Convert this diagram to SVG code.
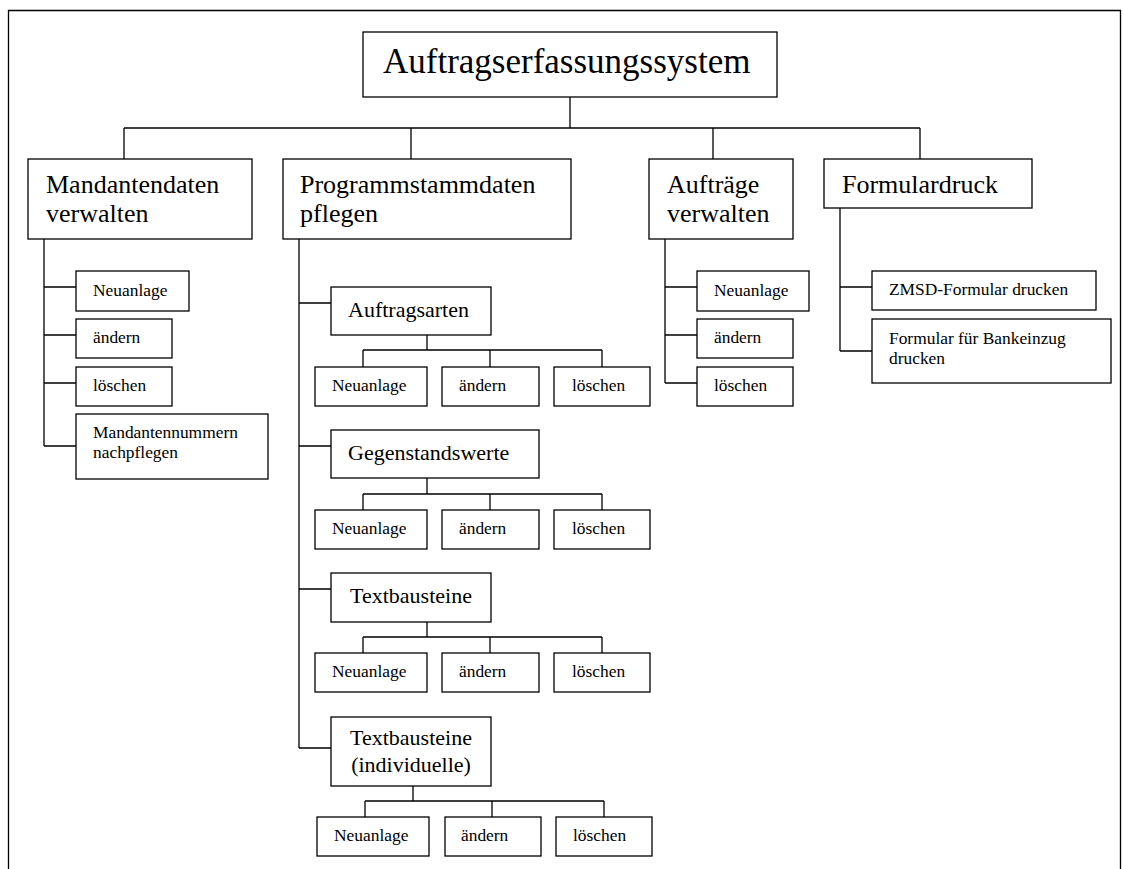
<svg xmlns="http://www.w3.org/2000/svg" width="1124" height="869" viewBox="0 0 1124 869">
<style>
rect{fill:#fff;stroke:#000;stroke-width:1.3}
path{fill:none;stroke:#000;stroke-width:1.3}
text{font-family:"Liberation Serif","Times New Roman",serif;fill:#000}
.t0{font-size:35px}
.t1{font-size:26px}
.t2{font-size:22px}
.t3{font-size:17.4px}
</style>
<rect x="0" y="0" width="1124" height="869" style="stroke:none"/>
<path id="frame" d="M8.5,869 V10.5 H1120.5 V869"/>
<g id="connectors">
<path d="M570,97 V128 M124,128 H920 M124,128 V159 M411,128 V159 M713,128 V159 M920,128 V159"/>
<path d="M44,239 V446 M44,287 H76 M44,335 H76 M44,383 H76 M44,446 H76"/>
<path d="M299,239 V748 M299,303 H331 M299,446 H331 M299,589 H331 M299,748 H331"/>
<path d="M427,335 V350 M363,350 H602 M363,350 V367 M490,350 V367 M602,350 V367"/>
<path d="M427,478 V494 M363,494 H602 M363,494 V510 M490,494 V510 M602,494 V510"/>
<path d="M427,622 V637 M363,637 H602 M363,637 V653 M490,637 V653 M602,637 V653"/>
<path d="M413,786 V801 M365,801 H604 M365,801 V817 M492,801 V817 M604,801 V817"/>
<path d="M665,239 V383 M665,287 H697 M665,335 H697 M665,383 H697"/>
<path d="M840,208 V351 M840,287 H872 M840,351 H872"/>
</g>
<g id="root"><rect x="363" y="32" width="414" height="65"/><text class="t0" x="383" y="73">Auftragserfassungssystem</text></g>
<g id="mandanten"><rect x="28" y="159" width="224" height="80"/><text class="t1" x="46" y="193">Mandantendaten</text><text class="t1" x="46" y="222">verwalten</text></g>
<g id="programm"><rect x="283" y="159" width="288" height="80"/><text class="t1" x="300" y="193">Programmstammdaten</text><text class="t1" x="300" y="222">pflegen</text></g>
<g id="auftraege"><rect x="649" y="159" width="144" height="80"/><text class="t1" x="667" y="193">Aufträge</text><text class="t1" x="667" y="222">verwalten</text></g>
<g id="formulardruck"><rect x="824" y="159" width="208" height="49"/><text class="t1" x="842" y="193">Formulardruck</text></g>

<g id="m-neu"><rect x="76" y="271" width="113" height="40"/><text class="t3" x="93" y="296">Neuanlage</text></g>
<g id="m-aendern"><rect x="76" y="319" width="96" height="39"/><text class="t3" x="93" y="343">ändern</text></g>
<g id="m-loeschen"><rect x="76" y="367" width="96" height="39"/><text class="t3" x="93" y="391">löschen</text></g>
<g id="m-nummern"><rect x="76" y="414" width="192" height="65"/><text class="t3" x="93" y="438">Mandantennummern</text><text class="t3" x="93" y="458">nachpflegen</text></g>

<g id="auftragsarten"><rect x="331" y="287" width="160" height="48"/><text class="t2" x="348" y="317">Auftragsarten</text></g>
<g id="aa-neu"><rect x="315" y="367" width="112" height="39"/><text class="t3" x="332" y="391">Neuanlage</text></g>
<g id="aa-aendern"><rect x="442" y="367" width="97" height="39"/><text class="t3" x="459" y="391">ändern</text></g>
<g id="aa-loeschen"><rect x="554" y="367" width="96" height="39"/><text class="t3" x="572" y="391">löschen</text></g>

<g id="gegenstandswerte"><rect x="331" y="430" width="208" height="48"/><text class="t2" x="348" y="460">Gegenstandswerte</text></g>
<g id="gw-neu"><rect x="315" y="510" width="112" height="39"/><text class="t3" x="332" y="534">Neuanlage</text></g>
<g id="gw-aendern"><rect x="442" y="510" width="97" height="39"/><text class="t3" x="459" y="534">ändern</text></g>
<g id="gw-loeschen"><rect x="554" y="510" width="96" height="39"/><text class="t3" x="572" y="534">löschen</text></g>

<g id="textbausteine"><rect x="331" y="573" width="160" height="49"/><text class="t2" x="411" y="603" text-anchor="middle">Textbausteine</text></g>
<g id="tb-neu"><rect x="315" y="653" width="112" height="39"/><text class="t3" x="332" y="677">Neuanlage</text></g>
<g id="tb-aendern"><rect x="442" y="653" width="97" height="39"/><text class="t3" x="459" y="677">ändern</text></g>
<g id="tb-loeschen"><rect x="554" y="653" width="96" height="39"/><text class="t3" x="572" y="677">löschen</text></g>

<g id="textbausteine-ind"><rect x="331" y="717" width="160" height="69"/><text class="t2" x="411" y="745" text-anchor="middle">Textbausteine</text><text class="t2" x="411" y="772" text-anchor="middle">(individuelle)</text></g>
<g id="ti-neu"><rect x="317" y="817" width="112" height="39"/><text class="t3" x="334" y="841">Neuanlage</text></g>
<g id="ti-aendern"><rect x="445" y="817" width="96" height="39"/><text class="t3" x="461" y="841">ändern</text></g>
<g id="ti-loeschen"><rect x="556" y="817" width="96" height="39"/><text class="t3" x="573" y="841">löschen</text></g>

<g id="a-neu"><rect x="697" y="271" width="112" height="40"/><text class="t3" x="714" y="296">Neuanlage</text></g>
<g id="a-aendern"><rect x="697" y="319" width="96" height="39"/><text class="t3" x="714" y="343">ändern</text></g>
<g id="a-loeschen"><rect x="697" y="367" width="96" height="39"/><text class="t3" x="714" y="391">löschen</text></g>

<g id="f-zmsd"><rect x="872" y="271" width="224" height="39"/><text class="t3" x="889" y="295">ZMSD-Formular drucken</text></g>
<g id="f-bank"><rect x="872" y="319" width="239" height="64"/><text class="t3" x="889" y="344">Formular für Bankeinzug</text><text class="t3" x="889" y="364">drucken</text></g>
</svg>
